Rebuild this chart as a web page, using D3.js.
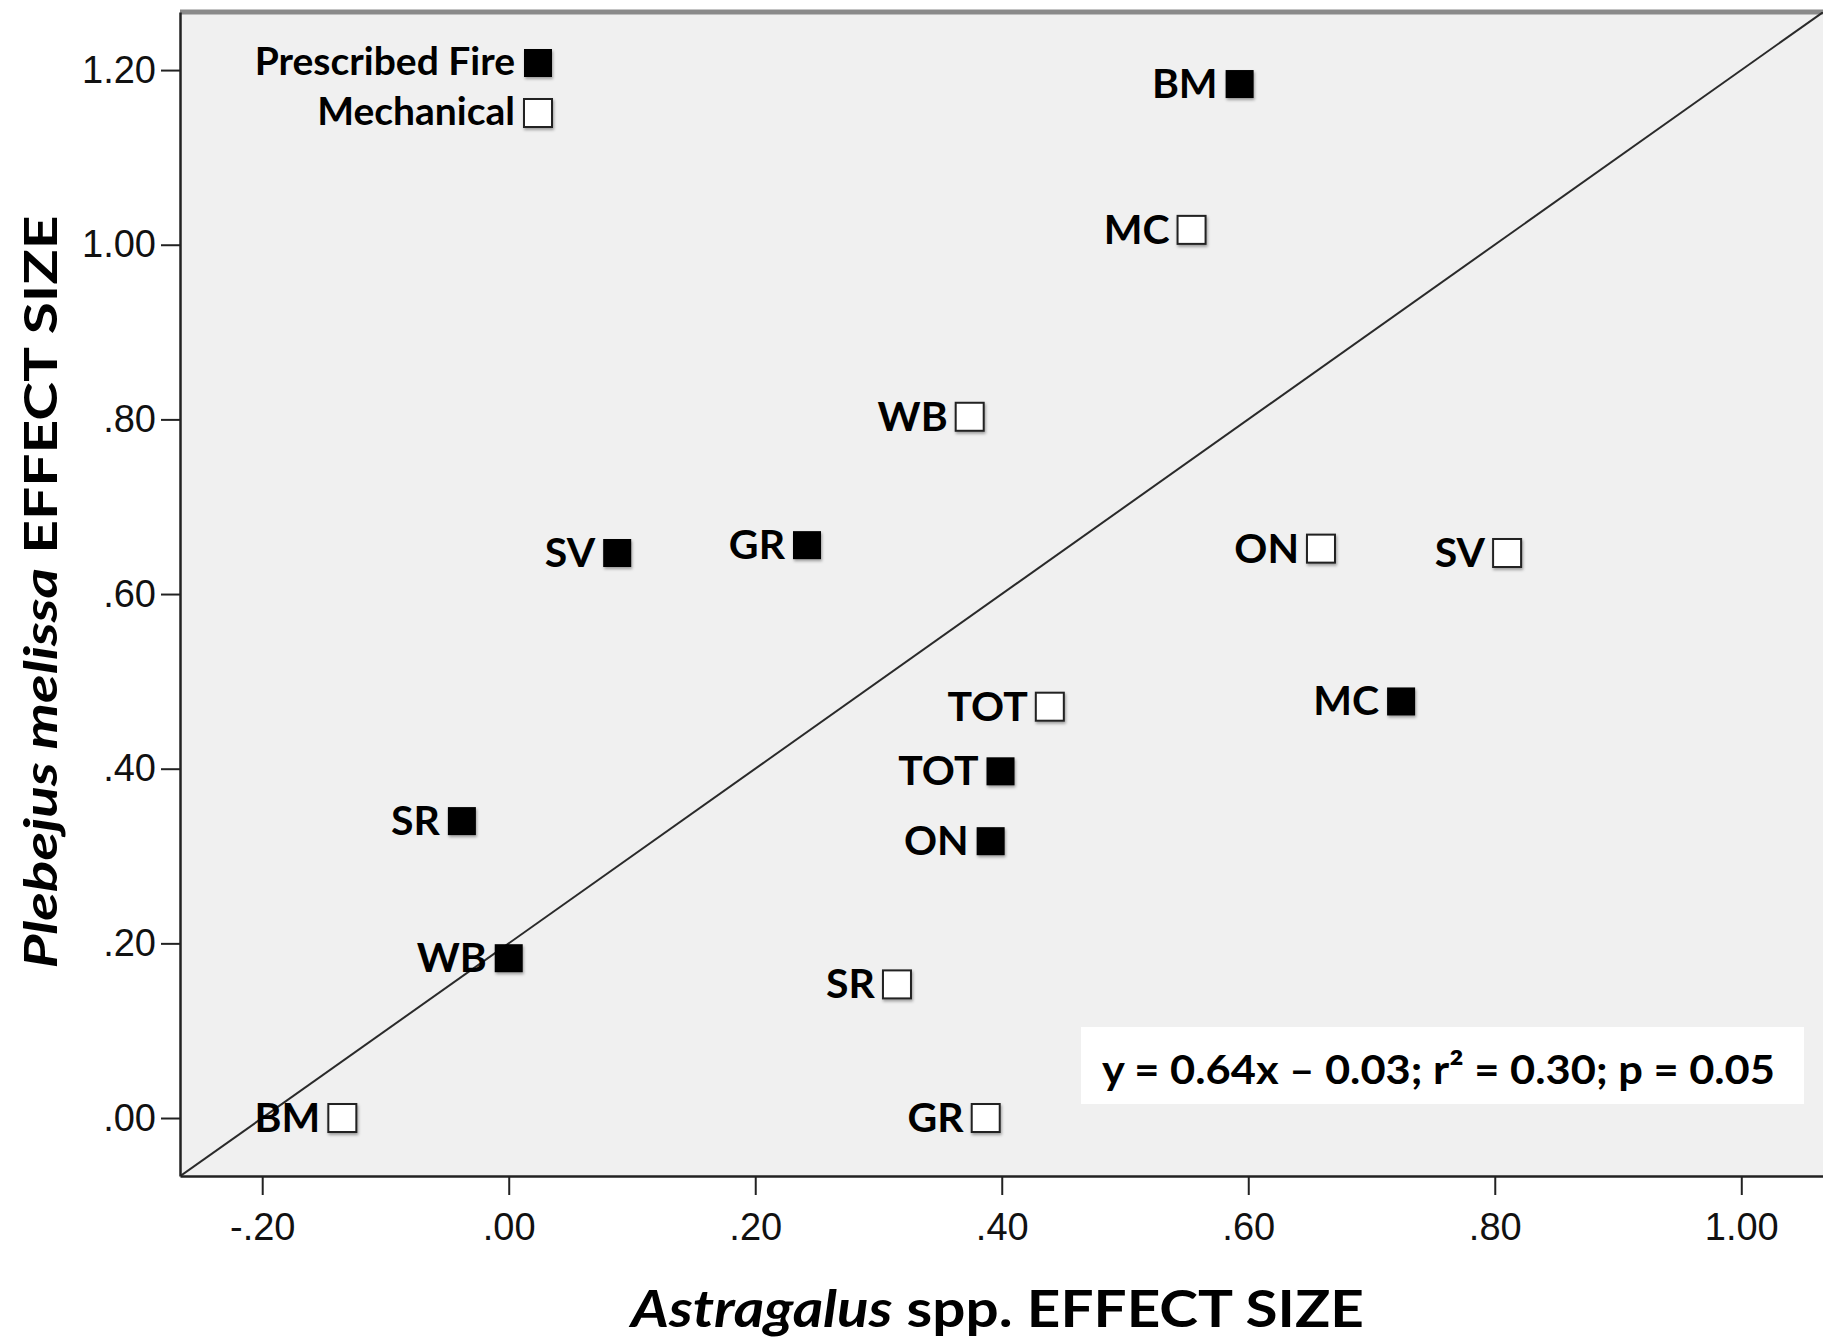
<!DOCTYPE html>
<html>
<head>
<meta charset="utf-8">
<script src="https://cdn.jsdelivr.net/npm/d3@7"></script>
<style>
  body { margin: 0; background: #fff; }
  .lbl { font-family: Lato, "Open Sans", sans-serif; font-weight: bold; fill: #000; }
  .tick text { font-family: "Liberation Sans", Arial, sans-serif; fill: #111; }
</style>
</head>
<body>
<div id="plot"></div>
<script>
// sites measured under prescribed fire (filled squares)
const fireSites = ["BM", "SV", "GR", "MC", "TOT", "ON", "SR", "WB"];
const fireX = [0.593, 0.088, 0.242, 0.724, 0.399, 0.391, -0.038, 0.000];
const fireY = [1.184, 0.647, 0.656, 0.477, 0.397, 0.317, 0.340, 0.183];

// sites under mechanical treatment (open squares)
const mechSites = ["MC", "WB", "ON", "SV", "TOT", "SR", "GR", "BM"];
const mechX = [0.554, 0.374, 0.659, 0.810, 0.439, 0.315, 0.387, -0.135];
const mechY = [1.017, 0.803, 0.652, 0.647, 0.471, 0.153, 0.000, 0.000];

const xTicks = [-0.2, 0, 0.2, 0.4, 0.6, 0.8, 1.0];
const yTicks = [0, 0.2, 0.4, 0.6, 0.8, 1.0, 1.2];
const xDomain = [-0.2667, 1.0663];
const yDomain = [-0.0664, 1.2665];

// reference line drawn through the plot: y = x + 0.2
const refSlope = 1;
const refIntercept = 0.2;

const legendItems = [
  { name: "Prescribed Fire", type: "fire" },
  { name: "Mechanical", type: "mech" }
];
const equation = "y = 0.64x \u2013 0.03; r\u00b2 = 0.30; p = 0.05";

const margin = { top: 12, right: 0, bottom: 164, left: 180 };
const width = 1823 - margin.left - margin.right;
const height = 1340 - margin.top - margin.bottom;

const x = d3.scaleLinear().domain(xDomain).range([0, width]);
const y = d3.scaleLinear().domain(yDomain).range([height, 0]);

// SPSS style: no leading zero, plain hyphen for negatives
const fmt = v => {
  const s = Math.abs(v).toFixed(2).replace(/^0\./, ".");
  return (v < 0 ? "-" : "") + s;
};

const root = d3.select("#plot")
  .append("svg")
    .attr("width", width + margin.left + margin.right)
    .attr("height", height + margin.top + margin.bottom);

const defs = root.append("defs");
defs.append("clipPath").attr("id", "clip")
  .append("rect").attr("width", width).attr("height", height);
defs.append("filter").attr("id", "shadow")
    .attr("x", "-30%").attr("y", "-30%").attr("width", "160%").attr("height", "160%")
  .append("feDropShadow")
    .attr("dx", 1).attr("dy", 2).attr("stdDeviation", 1.5)
    .attr("flood-color", "#000").attr("flood-opacity", 0.35);

const svg = root.append("g")
    .attr("transform", `translate(${margin.left},${margin.top})`);

// plot background
svg.append("rect")
    .attr("width", width)
    .attr("height", height)
    .attr("fill", "#f0f0f0");

// top frame line
svg.append("line")
    .attr("x1", 0).attr("x2", width)
    .attr("y1", 0).attr("y2", 0)
    .attr("stroke", "#8a8a8a")
    .attr("stroke-width", 5);

// reference line
const line = d3.line()
    .x(d => x(d))
    .y(d => y(refSlope * d + refIntercept));

svg.append("path")
  .datum(x.domain())
    .attr("clip-path", "url(#clip)")
    .attr("fill", "none")
    .attr("stroke", "#2a2a2a")
    .attr("stroke-width", 2)
    .attr("d", line);

// axes
const xAxis = svg.append("g")
    .attr("transform", `translate(0,${height})`)
    .call(d3.axisBottom(x)
      .tickValues(xTicks)
      .tickFormat(fmt)
      .tickSize(19)
      .tickSizeOuter(0)
      .tickPadding(18));

const yAxis = svg.append("g")
    .call(d3.axisLeft(y)
      .tickValues(yTicks)
      .tickFormat(fmt)
      .tickSize(19)
      .tickSizeOuter(0)
      .tickPadding(5));

[xAxis, yAxis].forEach(a => {
  a.select(".domain").attr("stroke", "#222").attr("stroke-width", 2.5);
  a.selectAll(".tick line").attr("stroke", "#222").attr("stroke-width", 2);
  a.selectAll(".tick text").attr("font-size", 38).attr("fill", "#000");
});

// points
const fire = fireSites.map((s, i) => ({ site: s, x: fireX[i], y: fireY[i], type: "fire" }));
const mech = mechSites.map((s, i) => ({ site: s, x: mechX[i], y: mechY[i], type: "mech" }));
const points = fire.concat(mech);

const sq = 28;

svg.append("g")
  .selectAll("rect")
  .data(points)
  .join("rect")
    .attr("x", d => x(d.x) - sq / 2)
    .attr("y", d => y(d.y) - sq / 2)
    .attr("width", sq)
    .attr("height", sq)
    .attr("fill", d => d.type === "fire" ? "#000" : "#fff")
    .attr("stroke", d => d.type === "fire" ? "none" : "#222")
    .attr("stroke-width", 2)
    .attr("filter", "url(#shadow)");

svg.append("g")
  .selectAll("text")
  .data(points)
  .join("text")
    .attr("class", "lbl")
    .attr("x", d => x(d.x) - sq / 2 - 8)
    .attr("y", d => y(d.y) + 14)
    .attr("text-anchor", "end")
    .attr("font-size", 41)
    .text(d => d.site);

// legend
const legend = svg.append("g")
    .attr("transform", "translate(358,51)");

const li = legend.selectAll("g")
  .data(legendItems)
  .join("g")
    .attr("transform", (d, i) => `translate(0,${i * 50})`);

li.append("rect")
    .attr("x", -sq / 2)
    .attr("y", -sq / 2)
    .attr("width", sq)
    .attr("height", sq)
    .attr("fill", d => d.type === "fire" ? "#000" : "#fff")
    .attr("stroke", d => d.type === "fire" ? "none" : "#222")
    .attr("stroke-width", 2)
    .attr("filter", "url(#shadow)");

li.append("text")
    .attr("class", "lbl")
    .attr("x", -sq / 2 - 9)
    .attr("y", 12)
    .attr("text-anchor", "end")
    .attr("font-size", 39)
    .text(d => d.name);

// regression annotation
svg.append("rect")
    .attr("x", 901)
    .attr("y", 1015)
    .attr("width", 723)
    .attr("height", 77)
    .attr("fill", "#fff");

svg.append("text")
    .attr("class", "lbl")
    .attr("x", 922)
    .attr("y", 1072)
    .attr("font-size", 41)
    .attr("textLength", 673)
    .attr("lengthAdjust", "spacingAndGlyphs")
    .text(equation);

// axis titles
const xTitle = root.append("text")
    .attr("class", "lbl")
    .attr("x", margin.left + width / 2 - 4)
    .attr("y", 1327)
    .attr("text-anchor", "middle")
    .attr("font-size", 52)
    .attr("textLength", 733)
    .attr("lengthAdjust", "spacingAndGlyphs");
xTitle.append("tspan").attr("font-style", "italic").text("Astragalus");
xTitle.append("tspan").text(" spp. EFFECT SIZE");

const yTitle = root.append("text")
    .attr("class", "lbl")
    .attr("transform", `translate(57,${margin.top + height / 2 - 2}) rotate(-90)`)
    .attr("text-anchor", "middle")
    .attr("font-size", 45)
    .attr("textLength", 753)
    .attr("lengthAdjust", "spacingAndGlyphs");
yTitle.append("tspan").attr("font-style", "italic").text("Plebejus melissa");
yTitle.append("tspan").text(" EFFECT SIZE");
</script>
</body>
</html>
